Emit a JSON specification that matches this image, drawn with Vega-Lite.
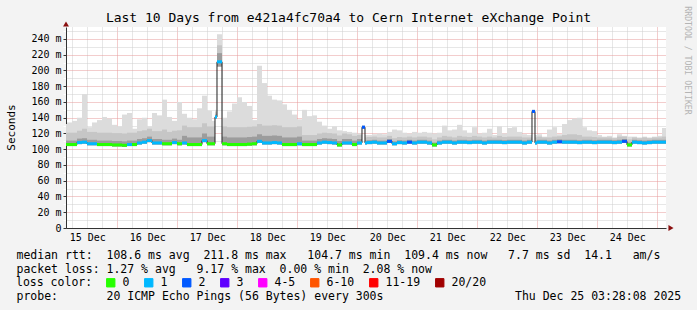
{
  "$schema": "https://vega.github.io/schema/vega-lite/v6.json",
  "autosize": {"type": "none"},
  "width": 600,
  "height": 201,
  "padding": {"left": 66, "top": 27, "right": 31, "bottom": 82},
  "background": "#f3f3f3",
  "title": {"text": "Last 10 Days from e421a4fc70a4 to Cern Internet eXchange Point", "font": "DejaVu Sans Mono", "fontSize": 13, "fontWeight": "normal", "color": "#000000", "anchor": "middle", "frame": "group", "dx": -17.5, "dy": 23, "offset": 4},
  "config": {
    "view": {"fill": "#ffffff", "stroke": null},
    "font": "DejaVu Sans Mono",
    "axis": {"labelFont": "DejaVu Sans Mono", "titleFont": "DejaVu Sans Mono", "labelColor": "#000000", "titleColor": "#000000", "titleFontWeight": "normal"},
    "legend": {"labelFont": "DejaVu Sans Mono", "titleFont": "DejaVu Sans Mono"}
  },
  "data": {"values": [
    {"t":"2025-12-15T01:52:00Z","t2":"2025-12-15T03:52:00Z","med":106,"loss":"0","lo":104,"dk":111,"mid":121,"hi":132},
    {"t":"2025-12-15T03:52:00Z","t2":"2025-12-15T05:52:00Z","med":106,"loss":"0","lo":104,"dk":111,"mid":121,"hi":134},
    {"t":"2025-12-15T05:52:00Z","t2":"2025-12-15T07:52:00Z","med":106,"loss":"0","lo":104,"dk":111,"mid":121,"hi":136},
    {"t":"2025-12-15T07:52:00Z","t2":"2025-12-15T09:52:00Z","med":108.5,"loss":"1","lo":106.5,"dk":113.5,"mid":123.5,"hi":140},
    {"t":"2025-12-15T09:52:00Z","t2":"2025-12-15T11:52:00Z","med":109,"loss":"1","lo":107,"dk":114,"mid":126,"hi":170},
    {"t":"2025-12-15T11:52:00Z","t2":"2025-12-15T13:52:00Z","med":107,"loss":"1","lo":105,"dk":112,"mid":122,"hi":128},
    {"t":"2025-12-15T13:52:00Z","t2":"2025-12-15T15:52:00Z","med":107,"loss":"1","lo":105,"dk":112,"mid":122,"hi":134},
    {"t":"2025-12-15T15:52:00Z","t2":"2025-12-15T17:52:00Z","med":106,"loss":"0","lo":104,"dk":111,"mid":121,"hi":137},
    {"t":"2025-12-15T17:52:00Z","t2":"2025-12-15T19:52:00Z","med":106,"loss":"0","lo":104,"dk":111,"mid":121,"hi":141},
    {"t":"2025-12-15T19:52:00Z","t2":"2025-12-15T21:52:00Z","med":106,"loss":"0","lo":104,"dk":111,"mid":121,"hi":139},
    {"t":"2025-12-15T21:52:00Z","t2":"2025-12-15T23:52:00Z","med":105.5,"loss":"0","lo":103.5,"dk":110.5,"mid":120.5,"hi":131},
    {"t":"2025-12-15T23:52:00Z","t2":"2025-12-16T01:52:00Z","med":105.5,"loss":"0","lo":103.5,"dk":110.5,"mid":120.5,"hi":129},
    {"t":"2025-12-16T01:52:00Z","t2":"2025-12-16T03:52:00Z","med":105,"loss":"0","lo":103,"dk":110,"mid":120,"hi":144},
    {"t":"2025-12-16T03:52:00Z","t2":"2025-12-16T05:52:00Z","med":106,"loss":"1","lo":104,"dk":111,"mid":121,"hi":146},
    {"t":"2025-12-16T05:52:00Z","t2":"2025-12-16T07:52:00Z","med":106,"loss":"0","lo":104,"dk":111,"mid":121,"hi":126},
    {"t":"2025-12-16T07:52:00Z","t2":"2025-12-16T09:52:00Z","med":108,"loss":"1","lo":106,"dk":113,"mid":123,"hi":138},
    {"t":"2025-12-16T09:52:00Z","t2":"2025-12-16T11:52:00Z","med":109,"loss":"1","lo":107,"dk":114,"mid":124,"hi":140},
    {"t":"2025-12-16T11:52:00Z","t2":"2025-12-16T13:52:00Z","med":111,"loss":"1","lo":109,"dk":116,"mid":126,"hi":129},
    {"t":"2025-12-16T13:52:00Z","t2":"2025-12-16T15:52:00Z","med":108,"loss":"1","lo":106,"dk":113,"mid":123,"hi":146},
    {"t":"2025-12-16T15:52:00Z","t2":"2025-12-16T17:52:00Z","med":108,"loss":"1","lo":106,"dk":113,"mid":123,"hi":143},
    {"t":"2025-12-16T17:52:00Z","t2":"2025-12-16T19:52:00Z","med":107,"loss":"0","lo":105,"dk":112,"mid":125,"hi":163},
    {"t":"2025-12-16T19:52:00Z","t2":"2025-12-16T21:52:00Z","med":107,"loss":"0","lo":105,"dk":112,"mid":122,"hi":141},
    {"t":"2025-12-16T21:52:00Z","t2":"2025-12-16T23:52:00Z","med":108.5,"loss":"1","lo":106.5,"dk":113.5,"mid":123.5,"hi":136},
    {"t":"2025-12-16T23:52:00Z","t2":"2025-12-17T01:52:00Z","med":107,"loss":"0","lo":105,"dk":112,"mid":124,"hi":160},
    {"t":"2025-12-17T01:52:00Z","t2":"2025-12-17T03:52:00Z","med":108,"loss":"1","lo":106,"dk":117,"mid":130,"hi":145},
    {"t":"2025-12-17T03:52:00Z","t2":"2025-12-17T05:52:00Z","med":106,"loss":"0","lo":104,"dk":115,"mid":128,"hi":140},
    {"t":"2025-12-17T05:52:00Z","t2":"2025-12-17T07:52:00Z","med":106,"loss":"0","lo":104,"dk":115,"mid":128,"hi":138},
    {"t":"2025-12-17T07:52:00Z","t2":"2025-12-17T09:52:00Z","med":106,"loss":"0","lo":104,"dk":115,"mid":128,"hi":152},
    {"t":"2025-12-17T09:52:00Z","t2":"2025-12-17T11:52:00Z","med":111,"loss":"1","lo":109,"dk":120,"mid":133,"hi":168},
    {"t":"2025-12-17T11:52:00Z","t2":"2025-12-17T13:52:00Z","med":107,"loss":"0","lo":105,"dk":116,"mid":129,"hi":149},
    {"t":"2025-12-17T13:52:00Z","t2":"2025-12-17T15:04:00Z","med":107,"loss":"0","lo":105,"dk":116,"mid":129,"hi":136},
    {"t":"2025-12-17T15:04:00Z","t2":"2025-12-17T15:52:00Z","med":141,"loss":"1","lo":139,"dk":144,"mid":147,"hi":150},
    {"t":"2025-12-17T15:52:00Z","t2":"2025-12-17T17:52:00Z","med":211,"loss":"1","lo":205,"dk":222,"mid":232,"hi":246},
    {"t":"2025-12-17T17:52:00Z","t2":"2025-12-17T19:52:00Z","med":107,"loss":"0","lo":105,"dk":116,"mid":129,"hi":140},
    {"t":"2025-12-17T19:52:00Z","t2":"2025-12-17T21:52:00Z","med":106,"loss":"0","lo":104,"dk":115,"mid":128,"hi":148},
    {"t":"2025-12-17T21:52:00Z","t2":"2025-12-17T23:52:00Z","med":106,"loss":"0","lo":104,"dk":115,"mid":128,"hi":158},
    {"t":"2025-12-17T23:52:00Z","t2":"2025-12-18T01:52:00Z","med":106,"loss":"0","lo":104,"dk":115,"mid":128,"hi":166},
    {"t":"2025-12-18T01:52:00Z","t2":"2025-12-18T03:52:00Z","med":106,"loss":"0","lo":104,"dk":115,"mid":128,"hi":160},
    {"t":"2025-12-18T03:52:00Z","t2":"2025-12-18T05:52:00Z","med":106.5,"loss":"0","lo":104.5,"dk":115.5,"mid":128.5,"hi":155},
    {"t":"2025-12-18T05:52:00Z","t2":"2025-12-18T07:52:00Z","med":107,"loss":"0","lo":105,"dk":116,"mid":129,"hi":137},
    {"t":"2025-12-18T07:52:00Z","t2":"2025-12-18T09:52:00Z","med":110,"loss":"1","lo":108,"dk":119,"mid":132,"hi":206},
    {"t":"2025-12-18T09:52:00Z","t2":"2025-12-18T11:52:00Z","med":108,"loss":"1","lo":106,"dk":117,"mid":130,"hi":184},
    {"t":"2025-12-18T11:52:00Z","t2":"2025-12-18T13:52:00Z","med":108,"loss":"1","lo":106,"dk":117,"mid":130,"hi":168},
    {"t":"2025-12-18T13:52:00Z","t2":"2025-12-18T15:52:00Z","med":108.5,"loss":"1","lo":106.5,"dk":117.5,"mid":130.5,"hi":163},
    {"t":"2025-12-18T15:52:00Z","t2":"2025-12-18T17:52:00Z","med":108,"loss":"1","lo":106,"dk":117,"mid":130,"hi":162},
    {"t":"2025-12-18T17:52:00Z","t2":"2025-12-18T19:52:00Z","med":106,"loss":"0","lo":104,"dk":115,"mid":128,"hi":157},
    {"t":"2025-12-18T19:52:00Z","t2":"2025-12-18T21:52:00Z","med":106,"loss":"0","lo":104,"dk":115,"mid":128,"hi":150},
    {"t":"2025-12-18T21:52:00Z","t2":"2025-12-18T23:52:00Z","med":106,"loss":"0","lo":104,"dk":115,"mid":128,"hi":144},
    {"t":"2025-12-18T23:52:00Z","t2":"2025-12-19T01:52:00Z","med":107,"loss":"1","lo":105,"dk":116,"mid":129,"hi":138},
    {"t":"2025-12-19T01:52:00Z","t2":"2025-12-19T03:52:00Z","med":106,"loss":"0","lo":104,"dk":111,"mid":118,"hi":150},
    {"t":"2025-12-19T03:52:00Z","t2":"2025-12-19T05:52:00Z","med":106,"loss":"0","lo":104,"dk":111,"mid":118,"hi":142},
    {"t":"2025-12-19T05:52:00Z","t2":"2025-12-19T07:52:00Z","med":106,"loss":"0","lo":104,"dk":111,"mid":118,"hi":143},
    {"t":"2025-12-19T07:52:00Z","t2":"2025-12-19T09:52:00Z","med":108,"loss":"1","lo":106,"dk":113,"mid":120,"hi":135},
    {"t":"2025-12-19T09:52:00Z","t2":"2025-12-19T11:52:00Z","med":109,"loss":"1","lo":107,"dk":114,"mid":121,"hi":130},
    {"t":"2025-12-19T11:52:00Z","t2":"2025-12-19T13:52:00Z","med":108.5,"loss":"1","lo":106.5,"dk":113.5,"mid":120.5,"hi":126},
    {"t":"2025-12-19T13:52:00Z","t2":"2025-12-19T15:52:00Z","med":108,"loss":"1","lo":106,"dk":113,"mid":120,"hi":129},
    {"t":"2025-12-19T15:52:00Z","t2":"2025-12-19T17:52:00Z","med":105.5,"loss":"0","lo":103.5,"dk":110.5,"mid":117.5,"hi":124},
    {"t":"2025-12-19T17:52:00Z","t2":"2025-12-19T19:52:00Z","med":108,"loss":"1","lo":106,"dk":113,"mid":120,"hi":123},
    {"t":"2025-12-19T19:52:00Z","t2":"2025-12-19T21:52:00Z","med":108,"loss":"1","lo":106,"dk":113,"mid":119,"hi":122},
    {"t":"2025-12-19T21:52:00Z","t2":"2025-12-19T23:52:00Z","med":106,"loss":"0","lo":104,"dk":111,"mid":117,"hi":121},
    {"t":"2025-12-19T23:52:00Z","t2":"2025-12-20T01:52:00Z","med":108,"loss":"1","lo":106,"dk":113,"mid":118,"hi":120},
    {"t":"2025-12-20T01:52:00Z","t2":"2025-12-20T03:04:00Z","med":128,"loss":"2","lo":126,"dk":129,"mid":130,"hi":130},
    {"t":"2025-12-20T03:04:00Z","t2":"2025-12-20T03:52:00Z","med":108,"loss":"1","lo":106,"dk":111,"mid":115,"hi":118},
    {"t":"2025-12-20T03:52:00Z","t2":"2025-12-20T05:52:00Z","med":108.5,"loss":"1","lo":106.5,"dk":111.5,"mid":115.5,"hi":118},
    {"t":"2025-12-20T05:52:00Z","t2":"2025-12-20T07:52:00Z","med":109,"loss":"1","lo":107,"dk":112,"mid":116,"hi":119},
    {"t":"2025-12-20T07:52:00Z","t2":"2025-12-20T09:52:00Z","med":108,"loss":"1","lo":106,"dk":111,"mid":115,"hi":120},
    {"t":"2025-12-20T09:52:00Z","t2":"2025-12-20T11:52:00Z","med":108,"loss":"1","lo":106,"dk":111,"mid":115,"hi":119},
    {"t":"2025-12-20T11:52:00Z","t2":"2025-12-20T13:52:00Z","med":110,"loss":"2","lo":108,"dk":113,"mid":117,"hi":122},
    {"t":"2025-12-20T13:52:00Z","t2":"2025-12-20T15:52:00Z","med":107,"loss":"1","lo":105,"dk":110,"mid":114,"hi":125},
    {"t":"2025-12-20T15:52:00Z","t2":"2025-12-20T17:52:00Z","med":108.5,"loss":"1","lo":106.5,"dk":111.5,"mid":115.5,"hi":124},
    {"t":"2025-12-20T17:52:00Z","t2":"2025-12-20T19:52:00Z","med":108,"loss":"1","lo":106,"dk":111,"mid":115,"hi":121},
    {"t":"2025-12-20T19:52:00Z","t2":"2025-12-20T21:52:00Z","med":109,"loss":"2","lo":107,"dk":112,"mid":116,"hi":120},
    {"t":"2025-12-20T21:52:00Z","t2":"2025-12-20T23:52:00Z","med":108,"loss":"1","lo":106,"dk":111,"mid":115,"hi":122},
    {"t":"2025-12-20T23:52:00Z","t2":"2025-12-21T01:52:00Z","med":109,"loss":"1","lo":107,"dk":112,"mid":116,"hi":121},
    {"t":"2025-12-21T01:52:00Z","t2":"2025-12-21T03:52:00Z","med":109,"loss":"1","lo":107,"dk":112,"mid":116,"hi":122},
    {"t":"2025-12-21T03:52:00Z","t2":"2025-12-21T05:52:00Z","med":108,"loss":"1","lo":106,"dk":111,"mid":115,"hi":121},
    {"t":"2025-12-21T05:52:00Z","t2":"2025-12-21T07:52:00Z","med":105.5,"loss":"0","lo":103.5,"dk":108.5,"mid":112.5,"hi":120},
    {"t":"2025-12-21T07:52:00Z","t2":"2025-12-21T09:52:00Z","med":108,"loss":"1","lo":106,"dk":111,"mid":115,"hi":121},
    {"t":"2025-12-21T09:52:00Z","t2":"2025-12-21T11:52:00Z","med":109,"loss":"1","lo":107,"dk":112,"mid":117,"hi":130},
    {"t":"2025-12-21T11:52:00Z","t2":"2025-12-21T13:52:00Z","med":109,"loss":"1","lo":107,"dk":112,"mid":116,"hi":124},
    {"t":"2025-12-21T13:52:00Z","t2":"2025-12-21T15:52:00Z","med":108,"loss":"1","lo":106,"dk":111,"mid":115,"hi":125},
    {"t":"2025-12-21T15:52:00Z","t2":"2025-12-21T17:52:00Z","med":109,"loss":"1","lo":107,"dk":112,"mid":117,"hi":131},
    {"t":"2025-12-21T17:52:00Z","t2":"2025-12-21T19:52:00Z","med":109,"loss":"1","lo":107,"dk":112,"mid":116,"hi":124},
    {"t":"2025-12-21T19:52:00Z","t2":"2025-12-21T21:52:00Z","med":108.5,"loss":"1","lo":106.5,"dk":111.5,"mid":115.5,"hi":121},
    {"t":"2025-12-21T21:52:00Z","t2":"2025-12-21T23:52:00Z","med":109,"loss":"1","lo":107,"dk":112,"mid":117,"hi":128},
    {"t":"2025-12-21T23:52:00Z","t2":"2025-12-22T01:52:00Z","med":109,"loss":"1","lo":107,"dk":112,"mid":116,"hi":120},
    {"t":"2025-12-22T01:52:00Z","t2":"2025-12-22T03:52:00Z","med":108,"loss":"1","lo":106,"dk":111,"mid":115,"hi":121},
    {"t":"2025-12-22T03:52:00Z","t2":"2025-12-22T05:52:00Z","med":109,"loss":"1","lo":107,"dk":112,"mid":116,"hi":126},
    {"t":"2025-12-22T05:52:00Z","t2":"2025-12-22T07:52:00Z","med":109,"loss":"1","lo":107,"dk":112,"mid":115,"hi":118},
    {"t":"2025-12-22T07:52:00Z","t2":"2025-12-22T09:52:00Z","med":109,"loss":"1","lo":107,"dk":112,"mid":117,"hi":129},
    {"t":"2025-12-22T09:52:00Z","t2":"2025-12-22T11:52:00Z","med":108.5,"loss":"1","lo":106.5,"dk":111.5,"mid":115.5,"hi":120},
    {"t":"2025-12-22T11:52:00Z","t2":"2025-12-22T13:52:00Z","med":109,"loss":"1","lo":107,"dk":112,"mid":116,"hi":127},
    {"t":"2025-12-22T13:52:00Z","t2":"2025-12-22T15:52:00Z","med":109,"loss":"1","lo":107,"dk":112,"mid":116,"hi":128},
    {"t":"2025-12-22T15:52:00Z","t2":"2025-12-22T17:52:00Z","med":109,"loss":"1","lo":107,"dk":112,"mid":116,"hi":122},
    {"t":"2025-12-22T17:52:00Z","t2":"2025-12-22T19:52:00Z","med":108,"loss":"1","lo":106,"dk":111,"mid":115,"hi":119},
    {"t":"2025-12-22T19:52:00Z","t2":"2025-12-22T21:52:00Z","med":109,"loss":"1","lo":107,"dk":112,"mid":115,"hi":118},
    {"t":"2025-12-22T21:52:00Z","t2":"2025-12-22T23:04:00Z","med":148,"loss":"2","lo":146,"dk":149,"mid":150,"hi":150},
    {"t":"2025-12-22T23:04:00Z","t2":"2025-12-22T23:52:00Z","med":108,"loss":"1","lo":106,"dk":111,"mid":115,"hi":118},
    {"t":"2025-12-22T23:52:00Z","t2":"2025-12-23T01:52:00Z","med":109,"loss":"1","lo":107,"dk":112,"mid":116,"hi":119},
    {"t":"2025-12-23T01:52:00Z","t2":"2025-12-23T03:52:00Z","med":109,"loss":"1","lo":107,"dk":112,"mid":115,"hi":116},
    {"t":"2025-12-23T03:52:00Z","t2":"2025-12-23T05:52:00Z","med":108,"loss":"1","lo":106,"dk":111,"mid":115,"hi":125},
    {"t":"2025-12-23T05:52:00Z","t2":"2025-12-23T07:52:00Z","med":109,"loss":"1","lo":107,"dk":112,"mid":116,"hi":128},
    {"t":"2025-12-23T07:52:00Z","t2":"2025-12-23T09:52:00Z","med":109.5,"loss":"2","lo":107.5,"dk":112.5,"mid":116.5,"hi":119},
    {"t":"2025-12-23T09:52:00Z","t2":"2025-12-23T11:52:00Z","med":109,"loss":"1","lo":107,"dk":112,"mid":118,"hi":132},
    {"t":"2025-12-23T11:52:00Z","t2":"2025-12-23T13:52:00Z","med":109,"loss":"1","lo":107,"dk":112,"mid":119,"hi":137},
    {"t":"2025-12-23T13:52:00Z","t2":"2025-12-23T15:52:00Z","med":109,"loss":"1","lo":107,"dk":112,"mid":119,"hi":139},
    {"t":"2025-12-23T15:52:00Z","t2":"2025-12-23T17:52:00Z","med":108.5,"loss":"1","lo":106.5,"dk":111.5,"mid":118,"hi":140},
    {"t":"2025-12-23T17:52:00Z","t2":"2025-12-23T19:52:00Z","med":109,"loss":"1","lo":107,"dk":112,"mid":116,"hi":128},
    {"t":"2025-12-23T19:52:00Z","t2":"2025-12-23T21:52:00Z","med":109,"loss":"1","lo":107,"dk":112,"mid":116,"hi":124},
    {"t":"2025-12-23T21:52:00Z","t2":"2025-12-23T23:52:00Z","med":108.5,"loss":"1","lo":106.5,"dk":111.5,"mid":115.5,"hi":123},
    {"t":"2025-12-23T23:52:00Z","t2":"2025-12-24T01:52:00Z","med":109,"loss":"1","lo":107,"dk":112,"mid":115,"hi":118},
    {"t":"2025-12-24T01:52:00Z","t2":"2025-12-24T03:52:00Z","med":109,"loss":"1","lo":107,"dk":112,"mid":115,"hi":116},
    {"t":"2025-12-24T03:52:00Z","t2":"2025-12-24T05:52:00Z","med":109,"loss":"1","lo":107,"dk":112,"mid":115,"hi":117},
    {"t":"2025-12-24T05:52:00Z","t2":"2025-12-24T07:52:00Z","med":108.5,"loss":"1","lo":106.5,"dk":111.5,"mid":114,"hi":115},
    {"t":"2025-12-24T07:52:00Z","t2":"2025-12-24T09:52:00Z","med":109,"loss":"1","lo":107,"dk":112,"mid":116,"hi":119},
    {"t":"2025-12-24T09:52:00Z","t2":"2025-12-24T11:52:00Z","med":110,"loss":"2","lo":108,"dk":113,"mid":116,"hi":117},
    {"t":"2025-12-24T11:52:00Z","t2":"2025-12-24T13:52:00Z","med":105.5,"loss":"0","lo":103.5,"dk":108.5,"mid":112.5,"hi":116},
    {"t":"2025-12-24T13:52:00Z","t2":"2025-12-24T15:52:00Z","med":109,"loss":"1","lo":107,"dk":112,"mid":115,"hi":116},
    {"t":"2025-12-24T15:52:00Z","t2":"2025-12-24T17:52:00Z","med":108.5,"loss":"1","lo":106.5,"dk":111.5,"mid":114,"hi":115},
    {"t":"2025-12-24T17:52:00Z","t2":"2025-12-24T19:52:00Z","med":108,"loss":"1","lo":106,"dk":111,"mid":115,"hi":116},
    {"t":"2025-12-24T19:52:00Z","t2":"2025-12-24T21:52:00Z","med":108.5,"loss":"1","lo":106.5,"dk":111.5,"mid":114,"hi":115},
    {"t":"2025-12-24T21:52:00Z","t2":"2025-12-24T23:52:00Z","med":109,"loss":"1","lo":107,"dk":112,"mid":115,"hi":116},
    {"t":"2025-12-24T23:52:00Z","t2":"2025-12-25T01:52:00Z","med":109,"loss":"1","lo":107,"dk":112,"mid":115,"hi":117},
    {"t":"2025-12-25T01:52:00Z","t2":"2025-12-25T03:52:00Z","med":109,"loss":"1","lo":107,"dk":112,"mid":116,"hi":127}
  ]},
  "resolve": {"axis": {"x": "independent", "y": "independent"}},
  "layer": [
    {
      "mark": {"type": "rect", "color": "#dcdcdc", "clip": true},
      "encoding": {
        "x": {"field": "t", "type": "temporal",
          "scale": {"type": "utc", "nice": false, "domain": [1765769288000, 1766633288000]},
          "axis": {"orient": "bottom", "grid": false, "ticks": false, "domain": true, "domainColor": "#333333", "format": "%d %b", "labelFontSize": 10, "labelPadding": 4, "labelFlush": false, "labelOverlap": false,
            "values": [1765800000000, 1765886400000, 1765972800000, 1766059200000, 1766145600000, 1766232000000, 1766318400000, 1766404800000, 1766491200000, 1766577600000],
            "title": [
              "median rtt:\u00a0\u00a0108.6 ms avg\u00a0\u00a0211.8 ms max\u00a0\u00a0\u00a0104.7 ms min\u00a0\u00a0109.4 ms now\u00a0\u00a0\u00a07.7 ms sd\u00a0\u00a014.1\u00a0\u00a0\u00a0am/s",
              "packet loss: 1.27 % avg\u00a0\u00a0\u00a09.17 % max\u00a0\u00a00.00 % min\u00a0\u00a02.08 % now"
            ],
            "titleFontSize": 11.5, "titleAlign": "left", "titleAnchor": "start", "titleBaseline": "alphabetic", "titleX": -50, "titleY": 30, "titleLineHeight": 14, "titleLimit": 3000}
        },
        "x2": {"field": "t2"},
        "y": {"field": "lo", "type": "quantitative",
          "scale": {"domain": [0, 255.2], "nice": false, "zero": false},
          "axis": {"orient": "left", "values": [0,10,20,30,40,50,60,70,80,90,100,110,120,130,140,150,160,170,180,190,200,210,220,230,240,250],
            "labelExpr": "datum.value % 20 ? '' : (datum.value == 0 ? '0' : datum.value + ' m')",
            "labelFontSize": 10, "labelPadding": 2, "tickSize": 3,
            "tickColor": {"condition": {"test": "datum.value % 20 === 0", "value": "#333333"}, "value": "#ffffff"},
            "grid": true, "gridDash": [1, 1],
            "gridColor": {"condition": {"test": "datum.value % 20 === 0", "value": "#e79a9a"}, "value": "#cfcfcf"},
            "domainColor": "#333333",
            "title": "Seconds", "titleFontSize": 11, "titleAngle": 270, "titleX": -55, "titleY": 100, "titleAlign": "center", "titleBaseline": "middle"}
        },
        "y2": {"field": "hi"}
      }
    },
    {
      "mark": {"type": "rect", "color": "#c6c6c6", "clip": true},
      "encoding": {
        "x": {"field": "t", "type": "temporal",
          "scale": {"type": "utc", "nice": false, "domain": [1765769288000, 1766633288000]},
          "axis": {"orient": "top", "grid": true, "ticks": false, "labels": false, "domain": false,
            "tickCount": 40, "gridDash": [1, 1],
            "gridColor": {"condition": {"test": "utchours(datum.value) === 0", "value": "#e79a9a"}, "value": "#cfcfcf"},
            "title": "probe:\u00a0\u00a0\u00a0\u00a0\u00a0\u00a0\u00a020 ICMP Echo Pings (56 Bytes) every 300s\u00a0\u00a0\u00a0\u00a0\u00a0\u00a0\u00a0\u00a0\u00a0\u00a0\u00a0\u00a0\u00a0\u00a0\u00a0\u00a0\u00a0\u00a0\u00a0Thu Dec 25 03:28:08 2025",
            "titleFontSize": 11.5, "titleAlign": "left", "titleAnchor": "start", "titleBaseline": "alphabetic", "titleX": -50, "titleY": 272, "titleLimit": 3000, "titleAngle": 0}
        },
        "x2": {"field": "t2"},
        "y": {"field": "lo", "type": "quantitative",
          "scale": {"domain": [0, 255.2], "nice": false, "zero": false},
          "axis": {"orient": "right", "grid": false, "ticks": false, "labels": false, "domain": false,
            "title": "RRDTOOL / TOBI OETIKER", "titleFontSize": 8.2, "titleColor": "#b4b4b4", "titleAngle": 90, "titleX": 20, "titleY": 33, "titleAlign": "center", "titleBaseline": "middle"}
        },
        "y2": {"field": "mid"}
      }
    },
    {
      "mark": {"type": "rect", "color": "#9c9c9c", "clip": true},
      "encoding": {
        "x": {"field": "t", "type": "temporal", "axis": null, "scale": {"type": "utc", "nice": false, "domain": [1765769288000, 1766633288000]}},
        "x2": {"field": "t2"},
        "y": {"field": "lo", "type": "quantitative", "axis": null, "scale": {"domain": [0, 255.2], "nice": false, "zero": false}},
        "y2": {"field": "dk"}
      }
    },
    {
      "mark": {"type": "line", "interpolate": "step-after", "color": "#202020", "strokeWidth": 1, "clip": true},
      "encoding": {
        "x": {"field": "t", "type": "temporal", "axis": null, "scale": {"type": "utc", "nice": false, "domain": [1765769288000, 1766633288000]}},
        "y": {"field": "med", "type": "quantitative", "axis": null, "scale": {"domain": [0, 255.2], "nice": false, "zero": false}}
      }
    },
    {
      "mark": {"type": "rule", "strokeWidth": 3, "strokeCap": "butt", "clip": true},
      "encoding": {
        "x": {"field": "t", "type": "temporal", "axis": null, "scale": {"type": "utc", "nice": false, "domain": [1765769288000, 1766633288000]}},
        "x2": {"field": "t2"},
        "y": {"field": "med", "type": "quantitative", "axis": null, "scale": {"domain": [0, 255.2], "nice": false, "zero": false}},
        "color": {"field": "loss", "type": "nominal",
          "scale": {"domain": ["0", "1", "2", "3", "4-5", "6-10", "11-19", "20/20"], "range": ["#26ff00", "#00b8ff", "#0059ff", "#5e00ff", "#ff00ff", "#ff5500", "#ff0000", "#a10000"]},
          "legend": {"orient": "none", "legendX": -50, "legendY": 250, "direction": "horizontal", "title": "loss color:", "titleOrient": "left", "titleFontSize": 11.5, "titleFontWeight": "normal", "titleColor": "#000000", "titlePadding": 12, "labelFontSize": 11.5, "labelColor": "#000000", "labelOffset": 6, "symbolType": "square", "symbolSize": 70, "symbolStrokeWidth": 1, "columnPadding": 12, "padding": 0,
            "encode": {"symbols": {"update": {"fill": {"scale": "color", "field": "value"}, "stroke": {"value": "#000000"}, "strokeWidth": {"value": 1}, "opacity": {"value": 1}}}}}
        }
      }
    },
    {
      "data": {"values": [{}]},
      "mark": {"type": "point", "shape": "triangle-up", "filled": true, "color": "#8b1010", "size": 35, "opacity": 1, "clip": false},
      "encoding": {
        "x": {"datum": 1765769288000, "type": "temporal", "axis": null, "scale": {"type": "utc", "nice": false, "domain": [1765769288000, 1766633288000]}},
        "y": {"datum": 259, "type": "quantitative", "axis": null, "scale": {"domain": [0, 255.2], "nice": false, "zero": false}}
      }
    },
    {
      "data": {"values": [{}]},
      "mark": {"type": "point", "shape": "triangle-right", "filled": true, "color": "#8b1010", "size": 35, "opacity": 1, "clip": false},
      "encoding": {
        "x": {"datum": 1766640488000, "type": "temporal", "axis": null, "scale": {"type": "utc", "nice": false, "domain": [1765769288000, 1766633288000]}},
        "y": {"datum": 0, "type": "quantitative", "axis": null, "scale": {"domain": [0, 255.2], "nice": false, "zero": false}}
      }
    }
  ]
}
